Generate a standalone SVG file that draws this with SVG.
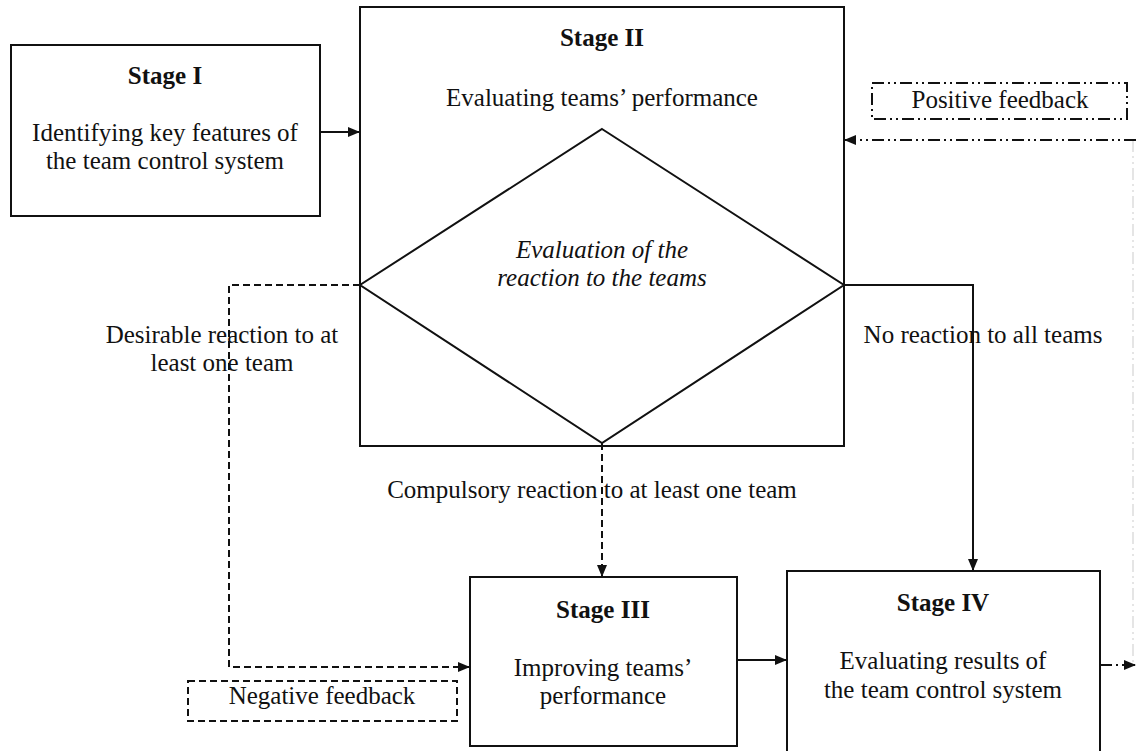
<svg xmlns="http://www.w3.org/2000/svg" width="1136" height="751" viewBox="0 0 1136 751">
<style>
text{font-family:"Liberation Serif","Times New Roman",serif;font-size:25px;fill:#111;text-anchor:middle}
.b{font-weight:bold}
.i{font-style:italic}
.box{fill:#fff;stroke:#111;stroke-width:2}
.ln{fill:none;stroke:#111;stroke-width:2}
.dash{stroke-dasharray:7,4}
.dd{stroke-dasharray:12,4,2,4,2,4}
</style>
<defs>
<marker id="ah" markerWidth="12" markerHeight="10" refX="11" refY="5" orient="auto" markerUnits="userSpaceOnUse">
<path d="M0,0 L12,5 L0,10 Z" fill="#111"/>
</marker>
</defs>
<g id="stage1"><rect class="box" x="11" y="45" width="309" height="171"/>
<text class="b" x="165" y="84">Stage I</text>
<text x="165" y="141">Identifying key features of</text>
<text x="165" y="169">the team control system</text></g>
<g id="stage2"><rect class="box" x="360" y="7" width="484" height="439"/>
<text class="b" x="602" y="46">Stage II</text>
<text x="602" y="106">Evaluating teams’ performance</text></g>
<g id="decision"><polygon class="ln" points="602,129 844,285 602,443 360,285"/>
<text class="i" x="602" y="258">Evaluation of the</text>
<text class="i" x="602" y="286">reaction to the teams</text></g>
<g id="stage3"><rect class="box" x="470" y="577" width="267" height="169"/>
<text class="b" x="603" y="618">Stage III</text>
<text x="603" y="676">Improving teams’</text>
<text x="603" y="704">performance</text></g>
<g id="stage4"><rect class="box" x="787" y="571" width="313" height="182"/>
<text class="b" x="943" y="611">Stage IV</text>
<text x="943" y="669">Evaluating results of</text>
<text x="943" y="698">the team control system</text></g>
<g id="pos-label"><rect class="ln dd" x="872" y="83" width="255" height="36" stroke-width="1.5"/>
<text x="1000" y="108">Positive feedback</text></g>
<g id="neg-label"><rect class="ln dash" x="188" y="681" width="269" height="40" stroke-width="1.5"/>
<text x="322" y="704">Negative feedback</text></g>
<g id="connectors">
<line class="ln" x1="320" y1="132" x2="359" y2="132" marker-end="url(#ah)"/>
<polyline class="ln dash" points="360,285 229,285 229,667 469,667" marker-end="url(#ah)"/>
<line class="ln dash" x1="602" y1="443" x2="602" y2="576" marker-end="url(#ah)"/>
<polyline class="ln" points="844,285 973,285 973,570" marker-end="url(#ah)"/>
<line class="ln" x1="737" y1="660" x2="786" y2="660" marker-end="url(#ah)"/>
<line class="ln dd" x1="1100" y1="665" x2="1135" y2="665" marker-end="url(#ah)"/>
<line x1="1133" y1="140" x2="1133" y2="665" stroke="#ddd" stroke-width="1.5" stroke-dasharray="12,4,2,4,2,4"/>
<line class="ln dd" x1="1136" y1="140" x2="845" y2="140" marker-end="url(#ah)"/>
</g>
<g id="labels">
<text x="222" y="343">Desirable reaction to at</text>
<text x="222" y="371">least one team</text>
<text x="983" y="343">No reaction to all teams</text>
<text x="592" y="498">Compulsory reaction to at least one team</text>
</g>
</svg>
